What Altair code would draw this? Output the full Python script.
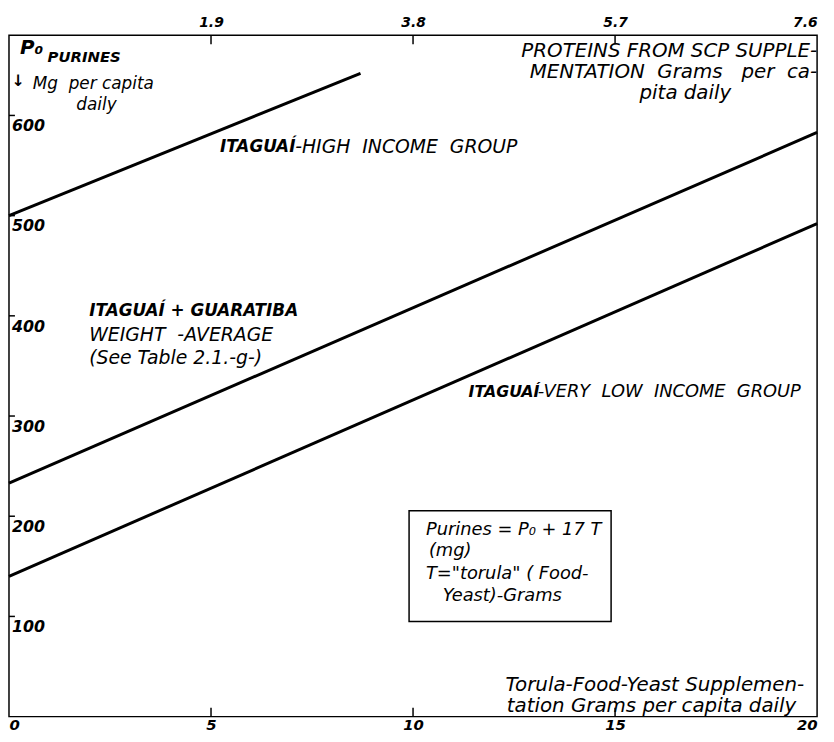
import altair as alt
import pandas as pd

# ---- data ----
groups = ["ITAGUAÍ - high income", "ITAGUAÍ + GUARATIBA weight-average", "ITAGUAÍ - very low income"]
torula_start = [0, 0, 0]
torula_end = [8.7, 20, 20]
purines_start = [500, 233, 140]
purines_end = [642, 583, 492]

bottom_tick_labels = [0, 5, 10, 15, 20]
inner_ticks = [5, 10, 15]
top_tick_positions = [5, 10, 15, 20]
top_tick_labels = ["1.9", "3.8", "5.7", "7.6"]
y_tick_values = [100, 200, 300, 400, 500, 600]

X_DOMAIN = [0, 20]
Y_DOMAIN = [0, 680]

W, H = 816, 688
FONT = "DejaVu Sans"
S = "\u00a0"  # non-breaking space (keeps the wide hand-lettered spacing)

rows = []
for g, x0, x1, y0, y1 in zip(groups, torula_start, torula_end, purines_start, purines_end):
    rows.append({"g": g, "x": x0, "y": y0})
    rows.append({"g": g, "x": x1, "y": y1})
lines_df = pd.DataFrame(rows)

xs = alt.Scale(domain=X_DOMAIN, nice=False, zero=False)
ys = alt.Scale(domain=Y_DOMAIN, nice=False)

lines = alt.Chart(lines_df).mark_line(color="black", strokeWidth=3).encode(
    x=alt.X("x:Q", scale=xs, axis=None),
    y=alt.Y("y:Q", scale=ys, axis=None),
    detail="g:N",
)

label_style = dict(labelFont=FONT, labelFontWeight="bold", labelFontStyle="italic",
                   labelColor="black", domain=False, ticks=False, grid=False, title=None)

bottom = alt.Chart(pd.DataFrame({"t": inner_ticks})).mark_rule(color="black", strokeWidth=1.5).encode(
    x=alt.X("t:Q", scale=xs, axis=alt.Axis(orient="bottom", values=bottom_tick_labels, format="d",
                                            labelFlush=True, labelPadding=1, labelFontSize=15,
                                            labelBaseline="top", **label_style)),
    y=alt.value(H), y2=alt.value(H - 9),
)

expr = " : ".join(f"datum.value == {p} ? '{l}'" for p, l in zip(top_tick_positions, top_tick_labels)) + " : ''"
top = alt.Chart(pd.DataFrame({"t": inner_ticks})).mark_rule(color="black", strokeWidth=1.5).encode(
    x=alt.X("t:Q", scale=xs, axis=alt.Axis(orient="top", values=top_tick_positions, labelExpr=expr,
                                            labelFlush=True, labelPadding=6, labelFontSize=14,
                                            **label_style)),
    y=alt.value(0), y2=alt.value(9),
)

ytick_df = pd.DataFrame({"v": y_tick_values})
yticks = alt.Chart(ytick_df).mark_rule(color="black", strokeWidth=1.5).encode(
    x=alt.value(0), x2=alt.value(6), y=alt.Y("v:Q", scale=ys, axis=None),
)
ylabels = alt.Chart(ytick_df).mark_text(align="left", baseline="middle", dx=3, dy=11, font=FONT,
                                        fontSize=16, fontWeight="bold", fontStyle="italic",
                                        color="black").encode(
    x=alt.value(0), y=alt.Y("v:Q", scale=ys, axis=None), text="v:Q",
)

one = pd.DataFrame({"a": [0]})


def note(txt, px, py, size=16, bold=False, align="left", italic=True):
    return alt.Chart(one).mark_text(
        text=txt, align=align, baseline="middle", font=FONT, fontSize=size,
        fontStyle="italic" if italic else "normal", fontWeight="bold" if bold else "normal",
        color="black",
    ).encode(x=alt.value(px), y=alt.value(py))


notes = [
    note("P₀", 11, 13, 20, True),
    note("PURINES", 39, 22, 15, True),
    note("↓", 9, 46, 16, True, align="center", italic=False),
    note(f"Mg{S}{S}per capita", 24, 49, 17),
    note("daily", 68, 70, 17),
    note("PROTEINS FROM SCP SUPPLE-", 816, 16, 20, align="right"),
    note(f"MENTATION{S}{S}Grams{S}{S}{S}per{S}{S}ca-", 816, 37, 20, align="right"),
    note("pita daily", 683, 58, 20, align="center"),
    note("ITAGUAÍ", 213, 113, 17, True),
    note(f"-HIGH{S}{S}INCOME{S}{S}GROUP", 289, 113, 19),
    note("ITAGUAÍ + GUARATIBA", 81, 278, 17, True),
    note(f"WEIGHT{S}{S}-AVERAGE", 81, 303, 19),
    note("(See Table 2.1.-g-)", 81, 326, 19),
    note("ITAGUAÍ", 464, 360, 16, True),
    note(f"-VERY{S}{S}LOW{S}{S}INCOME{S}{S}GROUP", 534, 360, 18),
    note("Purines = P₀ + 17 T", 421, 500, 18),
    note("(mg)", 424, 521, 18),
    note("T=\"torula\" ( Food-", 421, 544, 18),
    note("Yeast)-Grams", 438, 566, 18),
    note("Torula-Food-Yeast Supplemen-", 803, 656, 20, align="right"),
    note("tation Grams per capita daily", 795, 677, 20, align="right"),
]

box = alt.Chart(one).mark_rect(fill="white", fillOpacity=0, stroke="black", strokeWidth=1.5).encode(
    x=alt.value(404), x2=alt.value(608), y=alt.value(480), y2=alt.value(592),
)

chart = alt.layer(box, lines, bottom, top, yticks, ylabels, *notes).resolve_axis(
    x="independent"
).properties(
    width=W, height=H,
    padding={"left": 1, "top": 24, "right": 9, "bottom": 14},
    autosize=alt.AutoSizeParams(type="none"),
).configure_view(stroke="black", strokeWidth=1.5)

chart.save("out.html", embed_options={"renderer": "svg", "actions": False})
